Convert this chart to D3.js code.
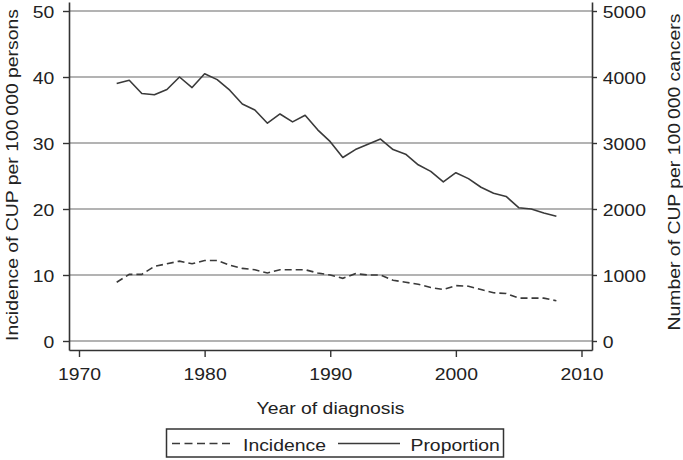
<!DOCTYPE html>
<html><head><meta charset="utf-8">
<script src="https://cdn.jsdelivr.net/npm/d3@7"></script>
<style>
html,body{margin:0;padding:0;background:#fff;}
svg text{font-family:"Liberation Sans",Arial,Helvetica,sans-serif;fill:#222;}
</style></head>
<body>
<svg id="chart" width="683" height="460"></svg>
<script>
const years = [1973,1974,1975,1976,1977,1978,1979,1980,1981,1982,1983,1984,1985,1986,1987,1988,1989,1990,
  1991,1992,1993,1994,1995,1996,1997,1998,1999,2000,2001,2002,2003,2004,2005,2006,2007,2008];
const incidence = [8.9,10.1,10.1,11.3,11.7,12.1,11.7,12.2,12.2,11.5,11.0,10.8,10.3,10.8,10.8,10.8,10.3,10.0,
  9.5,10.2,10.0,10.0,9.2,8.9,8.6,8.1,7.8,8.4,8.3,7.8,7.3,7.2,6.5,6.5,6.5,6.1];
const proportion = [3900,3950,3750,3730,3810,4000,3840,4050,3960,3800,3590,3500,3300,3440,3320,3420,3200,3020,
  2780,2900,2980,3060,2900,2830,2670,2570,2410,2550,2460,2330,2240,2190,2020,2000,1940,1890];
const xTicks = [1970,1980,1990,2000,2010];
const leftTicks = [0,10,20,30,40,50];
const rightTicks = [0,1000,2000,3000,4000,5000];
const xTitle = "Year of diagnosis";
const leftTitle = "Incidence of CUP per 100\u2009000 persons";
const rightTitle = "Number of CUP per 100\u2009000 cancers";
const legendLabels = ["Incidence","Proportion"];

const SX = 1.14, FS = 17;
const svg = d3.select("#chart");
const L = 69, R = 592, T = 2, B = 350;

const x = d3.scaleLinear().domain([1969.204, 2010.836]).range([L, R]);
const yL = d3.scaleLinear().domain([-1.364, 51.364]).range([B, T]);
const yR = d3.scaleLinear().domain([-136.4, 5136.4]).range([B, T]);

// gridlines
svg.append("g").selectAll("line").data(leftTicks).join("line")
  .attr("x1", L).attr("x2", R)
  .attr("y1", d => yL(d)).attr("y2", d => yL(d))
  .attr("stroke", "#9a9a9a").attr("stroke-width", 1.6);

// axes
const axL = svg.append("g").attr("transform", `translate(${L},0)`)
  .call(d3.axisLeft(yL).tickValues(leftTicks).tickFormat(d3.format("d")).tickSize(6).tickPadding(0).tickSizeOuter(0));
axL.selectAll("text").attr("x", -13).attr("dy", "0.36em")
  .attr("transform", `scale(${SX},1)`);
const axR = svg.append("g").attr("transform", `translate(${R},0)`)
  .call(d3.axisRight(yR).tickValues(rightTicks).tickFormat(d3.format("d")).tickSize(5).tickPadding(0).tickSizeOuter(0));
axR.selectAll("text").attr("x", 9.5).attr("dy", "0.36em")
  .attr("transform", `scale(${SX},1)`);
const axB = svg.append("g").attr("transform", `translate(0,${B})`)
  .call(d3.axisBottom(x).tickValues(xTicks).tickFormat(d3.format("d")).tickSize(7).tickPadding(11).tickSizeOuter(0));
axB.selectAll("text").attr("transform", `scale(${SX},1)`);

[axL, axR, axB].forEach(g => {
  g.selectAll("text").style("font-size", FS + "px").attr("fill", "#222");
  g.selectAll("path.domain").attr("stroke", "#333").attr("stroke-width", 1.6);
  g.selectAll(".tick line").attr("stroke", "#333").attr("stroke-width", 1.4);
  g.attr("font-family", null).attr("font-size", null);
});

// lines
const lineInc = d3.line().x((d, i) => x(years[i])).y(d => yL(d));
const lineProp = d3.line().x((d, i) => x(years[i])).y(d => yR(d));
svg.append("path").datum(incidence).attr("d", lineInc)
  .attr("fill", "none").attr("stroke", "#3a3a3a").attr("stroke-width", 1.6)
  .attr("stroke-dasharray", "7,4");
svg.append("path").datum(proportion).attr("d", lineProp)
  .attr("fill", "none").attr("stroke", "#3a3a3a").attr("stroke-width", 1.6)
  .attr("stroke-linejoin", "round");

// titles
svg.append("text").attr("transform", `translate(${(L + R) / 2},413.5) scale(${SX},1)`)
  .attr("text-anchor", "middle").style("font-size", FS + "px").text(xTitle);
svg.append("text").attr("transform", `translate(17.5,175) rotate(-90) scale(${SX},1)`)
  .attr("text-anchor", "middle").style("font-size", FS + "px").text(leftTitle);
svg.append("text").attr("transform", `translate(679.5,172) rotate(-90) scale(${SX},1)`)
  .attr("text-anchor", "middle").style("font-size", FS + "px").text(rightTitle);

// legend
const lg = svg.append("g");
lg.append("rect").attr("x", 166.5).attr("y", 429).attr("width", 337).attr("height", 28)
  .attr("fill", "#fff").attr("stroke", "#333").attr("stroke-width", 1.5);
lg.append("line").attr("x1", 172).attr("x2", 232).attr("y1", 443.5).attr("y2", 443.5)
  .attr("stroke", "#3a3a3a").attr("stroke-width", 1.6).attr("stroke-dasharray", "8,4.5");
lg.append("text").attr("transform", `translate(243,450.5) scale(${SX},1)`)
  .style("font-size", FS + "px").text(legendLabels[0]);
lg.append("line").attr("x1", 338).attr("x2", 400).attr("y1", 443.5).attr("y2", 443.5)
  .attr("stroke", "#3a3a3a").attr("stroke-width", 1.6);
lg.append("text").attr("transform", `translate(410.5,450.5) scale(${SX},1)`)
  .style("font-size", FS + "px").text(legendLabels[1]);
</script>
</body></html>
